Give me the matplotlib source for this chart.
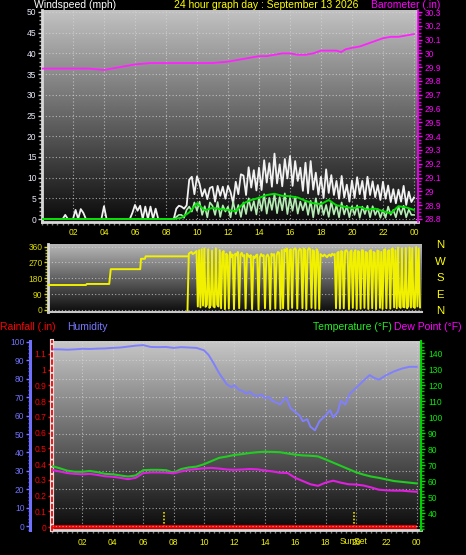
import numpy as np
import matplotlib
matplotlib.use('Agg')
import matplotlib.pyplot as plt
from matplotlib.ticker import MultipleLocator, FuncFormatter
from matplotlib import transforms, font_manager

# ---------------- data ----------------
hour_ticks = [2, 4, 6, 8, 10, 12, 14, 16, 18, 20, 22, 24]
hour_labels = ['02', '04', '06', '08', '10', '12', '14', '16', '18', '20', '22', '00']

sample_per_hour = 6  # 10-minute samples for wind speed data

wind_gust = [
    0, 0, 0, 0, 0, 0,
    0, 0, 0, 1, 0, 0,
    0, 2.2, 0, 2.4, 1.5, 0,
    0, 0, 0, 0, 0, 0,
    3.1, 0, 0, 0, 0, 0,
    0, 0, 0, 0, 0, 1.5,
    3.4, 2, 3.2, 0, 3, 0,
    3, 0, 2.5, 0, 0, 0,
    0, 0, 0, 0, 2.5, 3.2,
    3, 2.5, 3.3, 9.5, 10.2, 6,
    10.3, 8.5, 5.5, 7.2, 4.8, 7.5,
    7.8, 4.2, 8, 5.6, 7.8, 4.9,
    8, 6.5, 3.8, 9, 6, 10.8,
    10.5, 5.8, 12.5, 7.6, 11.8, 6.9,
    12.4, 7, 14.2, 8.8, 13.5, 7.8,
    15.8, 8.6, 13.2, 7.9, 14.5, 9.8,
    15.2, 8, 14, 9.2, 12.4, 6.8,
    13.6, 6.2, 14, 7.1, 11.2, 5.9,
    10.2, 5.1, 12, 6.3, 10.6, 5.8,
    9.2, 4.9, 10.4, 5.2, 8.3, 4.2,
    9.3, 5.1, 10.1, 6, 9.2, 4.8,
    10.2, 5.8, 9.1, 5.3, 8.2, 4.6,
    9, 4.9, 8.1, 4.1, 7.2, 3.8,
    7.1, 4.2, 8, 3.4, 6.6, 4.1,
    5.2]

wind_speed = [
    0, 0, 0, 0, 0, 0,
    0, 0, 0, 0, 0, 0,
    0, 0, 0, 0, 0, 0,
    0, 0, 0, 0, 0, 0,
    0, 0, 0, 0, 0, 0,
    0, 0, 0, 0, 0, 0,
    0, 0, 0, 0, 0, 0,
    0, 0, 0, 0, 0, 0,
    0, 0, 0, 0, 0.5, 1,
    1, 0.3, 2.2, 3, 1.8, 4,
    2, 4.2, 1, 3.1, 0.4, 4,
    3.2, 1, 4.1, 0.5, 3.3, 1.8,
    3, 0.4, 4.2, 1.2, 3.4, 0.5,
    4, 1.2, 5, 2, 4.3, 1.1,
    5.2, 2, 6, 1.3, 5.1, 2.2,
    6, 1.4, 5.3, 2.1, 6.2, 1.2,
    5.1, 2, 5.4, 1.3, 4.2, 2.1,
    4.3, 1, 4.4, 0.4, 5, 1.2,
    4.1, 1, 3.4, 0.5, 4.2, 1.1,
    3.3, 0.4, 4, 1.1, 3.2, 0.4,
    3.1, 1, 3.3, 0.3, 3, 1.2,
    3.2, 0.4, 3.1, 1, 2.4, 0.3,
    2.2, 0.3, 3, 1, 2.2, 0.4,
    3, 1.1, 3.2, 0.4, 2.3, 1,
    1]

wind_avg_hours = [0, 0.5, 1, 1.5, 2, 2.5, 3, 3.5, 4, 4.5, 5, 5.5, 6, 6.5, 7, 7.5, 8,
                  8.5, 9, 9.5, 10, 10.5, 11, 11.5, 12, 12.5, 13, 13.5, 14, 14.5, 15, 15.5,
                  16, 16.5, 17, 17.5, 18, 18.5, 19, 19.5, 20, 20.5, 21, 21.5, 22, 22.5, 23, 23.5, 24]
wind_avg = [0, 0, 0, 0, 0, 0, 0, 0, 0, 0, 0, 0, 0, 0, 0, 0, 0,
            0, 0.3, 1.6, 3.8, 2.1, 2.7, 2.4, 2.2, 1.9, 3.8, 4.6, 5.1, 5.8, 6.1, 5.6,
            5.5, 5.2, 4.4, 3.8, 3.6, 4.6, 3.3, 3.0, 2.6, 2.9, 2.3, 2.5, 1.9, 1.4, 3.1, 2.8, 2.2]

baro_hours = [0, 1, 2, 3, 3.5, 4, 4.5, 5, 5.5, 6, 6.5, 7, 8, 9, 10, 11, 12, 12.5, 13, 13.5,
              14, 14.5, 15, 15.5, 16, 16.5, 17, 17.5, 18, 18.5, 19, 19.3, 19.6, 20, 20.5,
              21, 21.5, 22, 22.5, 23, 23.5, 24]
baro = [29.89, 29.89, 29.89, 29.89, 29.885, 29.88, 29.89, 29.90, 29.91, 29.92, 29.925, 29.93,
        29.93, 29.93, 29.93, 29.93, 29.94, 29.95, 29.96, 29.97, 29.98, 29.98, 29.99, 30.00,
        30.00, 29.99, 29.99, 30.00, 30.02, 30.02, 30.02, 30.01, 30.03, 30.04, 30.05, 30.07,
        30.09, 30.11, 30.12, 30.12, 30.13, 30.14]

# wind direction: early steps, then 5-minute samples from 09:00
dir_early_hours = [0, 2.45, 2.5, 3.95, 4.05, 5.95, 6.0, 6.25, 6.3, 9.0]
dir_early = [142, 142, 148, 148, 232, 232, 291, 291, 305, 305]
dir_late_start = 9.0
dir_late_per_hour = 12
dir_late = [
    0, 320, 325, 330, 318, 322, 328, 335, 20, 340, 15, 345,
    25, 350, 18, 30, 345, 12, 28, 338, 22, 15, 350, 30,
    20, 340, 10, 325, 335, 5, 320, 310, 8, 330, 300, 315,
    5, 320, 310, 330, 10, 315, 325, 305, 312, 8, 320, 310,
    300, 312, 5, 305, 295, 310, 315, 3, 300, 318, 306, 312,
    10, 305, 315, 300, 5, 320, 310, 318, 8, 312, 330, 325,
    6, 340, 10, 345, 335, 350, 5, 338, 345, 12, 340, 350,
    345, 8, 335, 348, 340, 10, 350, 342, 5, 338, 352, 345,
    12, 340, 335, 8, 345, 330, 6, 318, 310, 305, 315, 308,
    300, 310, 315, 305, 320, 312, 318, 10, 325, 330, 8, 335,
    330, 10, 335, 340, 328, 5, 330, 338, 12, 325, 340, 6,
    335, 330, 8, 340, 338, 12, 330, 325, 6, 335, 340, 10,
    330, 325, 5, 338, 335, 12, 330, 6, 340, 345, 10, 335,
    340, 8, 345, 350, 15, 340, 10, 355, 20, 12, 350, 18,
    15, 352, 10, 22, 355, 14, 350, 18, 12, 358, 20, 348,
    15]

half_hours = [0, 0.5, 1, 1.5, 2, 2.5, 3, 3.5, 4, 4.5, 5, 5.5, 6, 6.5, 7, 7.5, 8, 8.5, 9, 9.5,
              10, 10.5, 11, 11.5, 12, 12.5, 13, 13.5, 14, 14.5, 15, 15.5, 16, 16.5, 17, 17.5,
              18, 18.5, 19, 19.5, 20, 20.5, 21, 21.5, 22, 22.5, 23, 23.5, 24]
temperature = [69.4, 68, 66.5, 65.8, 65.8, 66.3, 65.5, 64.5, 64.2, 63.5,
               62.8, 63.5, 66.8, 67, 67, 66.8, 65.2, 67.5, 68.5, 69,
               70.5, 72.5, 74.5, 75.3, 76.3, 76.8, 77.5, 78, 78.3, 78.2,
               78, 77.2, 76.5, 76, 75.8, 75.4, 73.5, 71.5, 69.5, 67.5,
               65.5, 64, 62.8, 62, 61, 60, 59.5, 59, 58.5]
dew_point = [66.9, 66, 65, 64.5, 64.2, 64.5, 63.8, 63, 62.7, 62,
             61.2, 62, 65, 65.4, 65.4, 65.3, 64.8, 66, 67, 67.5,
             68, 68.2, 67.8, 67.2, 67, 67.2, 67.5, 67.3, 66.6, 66,
             65.2, 65, 62, 60, 58, 57, 59, 60.2, 59, 58,
             57.8, 57.2, 56, 54.6, 54.2, 54, 54, 53.6, 53.3]

hum_hours = [0, 0.5, 1, 1.5, 2, 2.5, 3, 3.5, 4, 4.5, 5, 5.5, 6, 6.5, 7, 7.5, 8, 8.5, 9, 9.5, 10,
             10.3, 10.6, 11, 11.5, 11.8, 12, 12.3, 12.5, 12.8, 13, 13.3, 13.5, 13.8, 14, 14.3,
             14.5, 14.8, 15, 15.4, 15.7, 16, 16.3, 16.5, 16.8, 17, 17.3, 17.6, 18, 18.3, 18.5,
             18.8, 19, 19.3, 19.6, 20, 20.5, 20.9, 21.2, 21.5, 22, 22.5, 23, 23.5, 24]
humidity = [96, 96, 95.8, 96, 96.3, 96.2, 96.4, 96.5, 96.8, 97, 97.5, 98, 98.3, 97.3, 97.2,
            97.3, 96.8, 97.2, 97, 96.8, 95.5, 93, 89, 83, 77, 75.5, 76.5, 74, 73.5, 72, 73,
            71, 70.5, 71.5, 69.5, 70, 68, 67, 66, 70, 64, 62, 60, 57, 58, 54, 52, 57, 60, 63,
            59, 62, 68, 66, 72, 75, 79, 82, 80.5, 79.5, 82, 84, 85.5, 86.5, 86.5]

rain_hours = [0, 24]
rainfall = [0, 0]

sunrise_hour = 7.37
sunset_hour = 19.87

# ---------------- figure ----------------
W, H = 466, 555
_names = {f.name for f in font_manager.fontManager.ttflist}
if 'Liberation Sans Narrow' in _names:
    FONT = ['Liberation Sans Narrow', 'DejaVu Sans']
    FS = 1.0
else:
    FONT = ['Liberation Sans', 'DejaVu Sans']
    FS = 0.84
plt.rcParams['font.family'] = FONT

HEAD = 8.9 * FS
TICK = 7.3 * FS

fig = plt.figure(figsize=(W / 100, H / 100), dpi=100, facecolor='black')


def px_axes(x0, y0, x1, y1):
    return fig.add_axes([x0 / W, 1 - y1 / H, (x1 - x0) / W, (y1 - y0) / H])


def gradient(ax, top, bottom):
    g = np.linspace(top, bottom, 256).reshape(-1, 1)
    ax.imshow(g, cmap='gray', vmin=0, vmax=1, aspect='auto', extent=[0, 1, 0, 1],
              transform=ax.transAxes, zorder=0, interpolation='bilinear')


def ftext(x, y, s, color, size, ha='left'):
    fig.text(x / W, 1 - y / H, s, color=color, fontsize=size, ha=ha, va='center')


GRID = dict(color='#d8d8d8', linestyle=(0, (1, 2)), linewidth=0.8, alpha=0.7)

t10 = np.arange(len(wind_gust)) / sample_per_hour
t_dir_late = dir_late_start + np.arange(len(dir_late)) / dir_late_per_hour

# ---------- top panel: wind + barometer ----------
ax1 = px_axes(42, 10, 418, 222)
ax1.set_facecolor('black')
gradient(ax1, 0.76, 0.04)
ax1.plot(t10, wind_gust, color='#f2f2f2', lw=1.3, zorder=3)
ax1.plot(t10, wind_speed, color='#b4ecb4', lw=1.2, zorder=4)
ax1.plot(wind_avg_hours, wind_avg, color='#00e000', lw=1.4, zorder=5)
ax1.set_xlim(0, 24.26)
ax1.set_ylim(-0.72, 50.48)
ax1.set_yticks(np.arange(0, 51, 5))
ax1.yaxis.set_minor_locator(MultipleLocator(1))
ax1.tick_params(axis='y', which='major', colors='#d0d0d0', length=3, width=1,
                labelcolor='#e8e8f8', labelsize=TICK, pad=1)
ax1.tick_params(axis='y', which='minor', colors='#b0b0b0', length=2, width=1)
ax1.set_xticks(hour_ticks)
ax1.set_xticklabels(hour_labels)
ax1.xaxis.set_minor_locator(MultipleLocator(1 / 3))
ax1.tick_params(axis='x', which='both', colors='#808080', length=2, width=1,
                labelcolor='#f0f000', labelsize=TICK, pad=2.5)
ax1.grid(axis='both', which='major', **GRID)
for s in ['top', 'right']:
    ax1.spines[s].set_visible(False)
ax1.spines['left'].set_color('#d8d8d8')
ax1.spines['left'].set_linewidth(2)
ax1.spines['bottom'].set_color('#d8d8d8')
ax1.spines['bottom'].set_linewidth(2)

ax1b = ax1.twinx()
ax1b.plot(baro_hours, baro, color='#ff22ff', lw=1.3, zorder=6)
ax1b.set_ylim(28.778, 30.3145)
ax1b.set_yticks(np.round(np.arange(28.8, 30.31, 0.1), 2))
ax1b.yaxis.set_major_formatter(FuncFormatter(lambda v, p: f'{v:g}'))
ax1b.yaxis.set_minor_locator(MultipleLocator(0.025))
ax1b.tick_params(axis='y', which='major', colors='#ff00ff', length=3, width=1,
                 labelcolor='#ff00ff', labelsize=TICK, pad=2)
ax1b.tick_params(axis='y', which='minor', colors='#d000d0', length=2, width=1)
for s in ['top', 'left', 'bottom']:
    ax1b.spines[s].set_visible(False)
ax1b.spines['right'].set_color('#ff00ff')
ax1b.spines['right'].set_linewidth(1.2)
ax1b.set_xlim(0, 24.26)

ftext(34, 5, 'Windspeed (mph)', 'white', HEAD)
ftext(266, 5, '24 hour graph day : September 13 2026', '#ffff00', HEAD, ha='center')
ftext(440, 5, 'Barometer (.in)', '#ff00ff', HEAD, ha='right')

# ---------- direction panel ----------
ax2 = px_axes(48, 244, 422, 312)
ax2.set_facecolor('black')
gradient(ax2, 0.72, 0.05)
ax2.plot(dir_early_hours, dir_early, color='#f0f000', lw=1.4, zorder=3)
ax2.plot(t_dir_late, dir_late, color='#f0f000', lw=1.4, zorder=3)
ax2.set_xlim(0, 24.13)
ax2.set_ylim(-11.4, 375)
ax2.set_yticks([0, 90, 180, 270, 360])
ax2.yaxis.set_minor_locator(MultipleLocator(18))
ax2.tick_params(axis='y', which='major', colors='#d8d800', length=3, width=1,
                labelcolor='#d8d800', labelsize=TICK, pad=1)
ax2.tick_params(axis='y', which='minor', colors='#b8b800', length=2, width=1)
ax2.set_xticks(hour_ticks)
ax2.tick_params(axis='x', which='both', length=0, labelbottom=False)
ax2.grid(axis='y', which='major', **GRID)
for s in ['top', 'right']:
    ax2.spines[s].set_visible(False)
ax2.spines['left'].set_color('#d8d8d8')
ax2.spines['left'].set_linewidth(2)
ax2.spines['bottom'].set_color('#c8c8c8')
ax2.spines['bottom'].set_linewidth(1.5)
for lab, yy in zip(['N', 'W', 'S', 'E', 'N'], [245, 262, 278, 295, 311]):
    ftext(440, yy, lab, '#ffff00', HEAD * 1.1, ha='center')

# ---------- bottom panel ----------
ax3 = px_axes(52, 341, 421, 530)
ax3.set_facecolor('black')
gradient(ax3, 0.78, 0.04)
ax3.plot(rain_hours, rainfall, color='#ff0000', lw=2.6, zorder=7, solid_capstyle='butt')
ax3.vlines([sunrise_hour, sunset_hour], 0, 0.1, colors='#e8d800',
           linestyles=(0, (1, 1)), lw=1.2, zorder=6)
ax3.set_xlim(0, 24.28)
ax3.set_ylim(-0.019, 1.182)
ax3.set_yticks(np.round(np.arange(0, 1.15, 0.1), 1))
ax3.yaxis.set_major_formatter(FuncFormatter(lambda v, p: f'{v:g}'))
ax3.tick_params(axis='y', which='major', colors='#ff0000', length=3, width=1,
                labelcolor='#ff0000', labelsize=TICK, pad=1)
ax3.set_xticks(hour_ticks)
ax3.set_xticklabels(hour_labels)
ax3.xaxis.set_minor_locator(MultipleLocator(1 / 3))
ax3.tick_params(axis='x', which='both', colors='#808080', length=2, width=1,
                labelcolor='#f0f000', labelsize=TICK, pad=3.5)
ax3.grid(axis='x', which='major', **GRID)
for s in ['top', 'right']:
    ax3.spines[s].set_visible(False)
ax3.spines['left'].set_color('#e0e0e0')
ax3.spines['left'].set_linewidth(3)
ax3.spines['bottom'].set_color('#d8d8d8')
ax3.spines['bottom'].set_linewidth(2)
blend = transforms.blended_transform_factory(ax3.transData, ax3.transAxes)
ax3.text(sunset_hour, -0.06, 'SunSet', color='#f0f000', fontsize=TICK,
         ha='center', va='center', transform=blend)

ax_h = ax3.twinx()
ax_h.plot(hum_hours, humidity, color='#8080ff', lw=1.4, zorder=5)
ax_h.set_ylim(-2.17, 100.54)
ax_h.set_yticks(np.arange(0, 101, 10))
ax_h.yaxis.set_minor_locator(MultipleLocator(2))
ax_h.yaxis.tick_left()
ax_h.spines['left'].set_position(('outward', 22 * 0.72))
ax_h.tick_params(axis='y', which='major', colors='#7878ff', length=3, width=1,
                 labelcolor='#7070ff', labelsize=TICK, pad=1)
ax_h.tick_params(axis='y', which='minor', colors='#6060e0', length=1.5, width=1)
ax_h.grid(axis='y', which='major', **GRID)
for s in ['top', 'right', 'bottom']:
    ax_h.spines[s].set_visible(False)
ax_h.spines['left'].set_color('#7070ff')
ax_h.spines['left'].set_linewidth(2.2)
ax_h.set_xlim(0, 24.28)

ax_t = ax3.twinx()
ax_t.plot(half_hours, temperature, color='#22cc22', lw=1.5, zorder=5)
ax_t.plot(half_hours, dew_point, color='#e020e0', lw=1.5, zorder=5)
ax_t.set_ylim(29.4, 147.5)
ax_t.set_yticks(np.arange(40, 141, 10))
ax_t.yaxis.set_minor_locator(MultipleLocator(2))
ax_t.tick_params(axis='y', which='major', colors='#00e000', length=3, width=1,
                 labelcolor='#00ee00', labelsize=TICK, pad=2)
ax_t.tick_params(axis='y', which='minor', colors='#00c000', length=2, width=1)
for s in ['top', 'bottom']:
    ax_t.spines[s].set_visible(False)
ax_t.spines['right'].set_color('#00d000')
ax_t.spines['right'].set_linewidth(1.5)
ax_t.spines['left'].set_color('#ff0000')
ax_t.spines['left'].set_linewidth(1.3)
ax_t.spines['left'].set_linestyle((0, (2, 2)))
ax_t.set_xlim(0, 24.28)

ftext(0, 327, 'Rainfall (.in)', '#ff0000', HEAD)
ftext(67, 327, 'Humidity', '#7878ff', HEAD)
ftext(313, 327, 'Temperature (°F)', '#22ee22', HEAD)
ftext(462, 327, 'Dew Point (°F)', '#ff00ff', HEAD, ha='right')

fig.savefig('out.png', dpi=100, facecolor='black')
